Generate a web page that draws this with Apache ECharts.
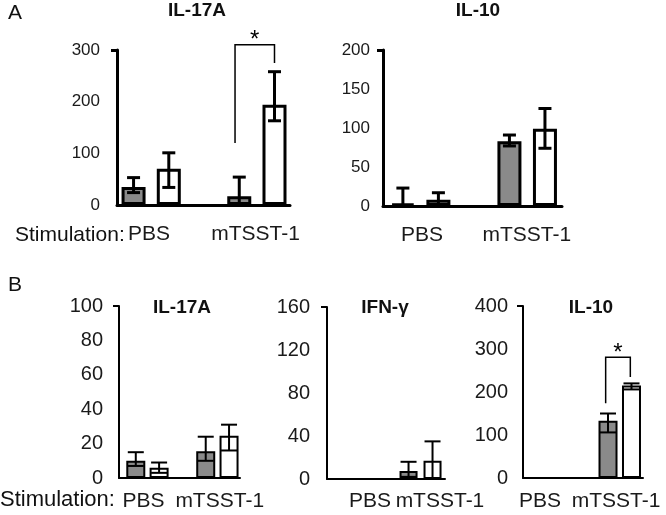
<!DOCTYPE html>
<html>
<head>
<meta charset="utf-8">
<script src="https://cdn.jsdelivr.net/npm/echarts@6.0.0/dist/echarts.min.js"></script>
<style>
html,body{margin:0;padding:0;background:#fff;}
#main{width:666px;height:515px;}
</style>
</head>
<body>
<div id="main"></div>
<script>
// ---------- DATA ----------
const groups = ['PBS', 'mTSST-1'];

// Panel A, IL-17A
const aIl17Gray   = [35, 17];
const aIl17GrayHi = [53, 54];
const aIl17GrayLo = [24, 0];
const aIl17White   = [70, 194];
const aIl17WhiteHi = [101, 258];
const aIl17WhiteLo = [34, 163];

// Panel A, IL-10
const aIl10Gray   = [3, 83];
const aIl10GrayHi = [23, 91];
const aIl10GrayLo = [0, 77];
const aIl10White   = [8, 99];
const aIl10WhiteHi = [17, 125];
const aIl10WhiteLo = [0, 74];

// Panel B, IL-17A
const bIl17Gray   = [10, 15.5];
const bIl17GrayHi = [15, 24];
const bIl17GrayLo = [7, 10];
const bIl17White   = [6, 24.5];
const bIl17WhiteHi = [9, 31];
const bIl17WhiteLo = [3, 16];

// Panel B, IFN-γ
const bIfnGray   = [0, 7.5];
const bIfnGrayHi = [null, 16];
const bIfnGrayLo = [null, 2];
const bIfnWhite   = [0, 17];
const bIfnWhiteHi = [null, 35];
const bIfnWhiteLo = [null, 0];

// Panel B, IL-10
const bIl10Gray   = [0, 133];
const bIl10GrayHi = [null, 150];
const bIl10GrayLo = [null, 106];
const bIl10White   = [0, 215];
const bIl10WhiteHi = [null, 220];
const bIl10WhiteLo = [null, 206];

// axis ticks
const aIl17Ticks = [0, 100, 200, 300];
const aIl10Ticks = [0, 50, 100, 150, 200];
const bIl17Ticks = [0, 20, 40, 60, 80, 100];
const bIfnTicks  = [0, 40, 80, 120, 160];
const bIl10Ticks = [0, 100, 200, 300, 400];

// significance brackets: [left leg bottom, right leg bottom, top]
const aIl17Sig = [120, 275, 310];
const bIl10Sig = [174, 235, 281];

// ---------- LAYOUT ----------
const FONT = "'Liberation Sans', Arial, Helvetica, sans-serif";
const panels = [
  {grid:{left:117, top:50, width:173, height:155}, ticks:aIl17Ticks, xMin:-0.47, xMax:4.44, labelPos:[0.44,3.46],
   gray:aIl17Gray, grayHi:aIl17GrayHi, grayLo:aIl17GrayLo, white:aIl17White, whiteHi:aIl17WhiteHi, whiteLo:aIl17WhiteLo,
   lw:3, barW:24, capW:13, tickFs:17, xFs:21, xMargin:19, yMargin:17, sig:aIl17Sig, sigX:[2.88,4.0]},
  {grid:{left:383, top:50, width:179, height:156}, ticks:aIl10Ticks, xMin:-0.56, xMax:4.48, labelPos:[0.54,3.49],
   gray:aIl10Gray, grayHi:aIl10GrayHi, grayLo:aIl10GrayLo, white:aIl10White, whiteHi:aIl10WhiteHi, whiteLo:aIl10WhiteLo,
   lw:3, barW:24, capW:13, tickFs:17, xFs:21, xMargin:19, yMargin:13},
  {grid:{left:119, top:306, width:121, height:172}, ticks:bIl17Ticks, xMin:-0.72, xMax:4.47, labelPos:[0.33,3.6],
   gray:bIl17Gray, grayHi:bIl17GrayHi, grayLo:bIl17GrayLo, white:bIl17White, whiteHi:bIl17WhiteHi, whiteLo:bIl17WhiteLo,
   lw:2, barW:19, capW:16, tickFs:20, xFs:21, xMargin:13, yMargin:16},
  {grid:{left:327, top:307, width:118, height:172}, ticks:bIfnTicks, xMin:-0.4, xMax:4.52, labelPos:[1.39,4.31],
   gray:bIfnGray, grayHi:bIfnGrayHi, grayLo:bIfnGrayLo, white:bIfnWhite, whiteHi:bIfnWhiteHi, whiteLo:bIfnWhiteLo,
   lw:2, barW:18, capW:16, tickFs:20, xFs:21, xMargin:12, yMargin:17},
  {grid:{left:523, top:306, width:120, height:172}, ticks:bIl10Ticks, xMin:-0.62, xMax:4.49, labelPos:[0.1,3.34],
   gray:bIl10Gray, grayHi:bIl10GrayHi, grayLo:bIl10GrayLo, white:bIl10White, whiteHi:bIl10WhiteHi, whiteLo:bIl10WhiteLo,
   lw:2, barW:19, capW:16, tickFs:20, xFs:21, xMargin:13, yMargin:15, sig:bIl10Sig, sigX:[2.9,3.95]}
];

const grids = [], xAxes = [], yAxes = [], series = [];

panels.forEach((p, i) => {
  grids.push(Object.assign({containLabel:false}, p.grid));
  const yMax = p.ticks[p.ticks.length - 1];
  const yInt = p.ticks[1] - p.ticks[0];
  xAxes.push({
    type:'value', gridIndex:i, min:p.xMin, max:p.xMax,
    axisLine:{show:true, onZero:false, lineStyle:{color:'#000', width:p.lw}},
    axisTick:{show:false}, splitLine:{show:false},
    axisLabel:{
      customValues:p.labelPos, hideOverlap:false, showMinLabel:true, showMaxLabel:true,
      formatter:(v)=> v < 2.5 ? groups[0] : groups[1],
      fontFamily:FONT, fontSize:p.xFs, color:'#1a1a1a', margin:p.xMargin
    }
  });
  yAxes.push({
    type:'value', gridIndex:i, min:0, max:yMax, interval:yInt,
    axisLine:{show:true, onZero:false, lineStyle:{color:'#000', width:p.lw}},
    axisTick:{show:true, customValues:[yMax], length:6, lineStyle:{color:'#000', width:p.lw}},
    splitLine:{show:false},
    axisLabel:{fontFamily:FONT, fontSize:p.tickFs, color:'#1a1a1a', margin:p.yMargin}
  });
  const pos = (g, k) => g * 3 + k; // gray at 0/3, white at 1/4
  const grayData = p.gray.map((v, g) => [pos(g,0), v]);
  const whiteData = p.white.map((v, g) => [pos(g,1), v]);
  series.push({
    type:'bar', xAxisIndex:i, yAxisIndex:i, data:grayData, barWidth:p.barW,
    itemStyle:{color:'#8a8a8a', borderColor:'#000', borderWidth:p.lw}, z:2, silent:true
  });
  series.push({
    type:'bar', xAxisIndex:i, yAxisIndex:i, data:whiteData, barWidth:p.barW, barGap:'-100%',
    itemStyle:{color:'#ffffff', borderColor:'#000', borderWidth:p.lw}, z:2, silent:true
  });
  const errData = [];
  groups.forEach((_, g) => {
    if (p.grayHi[g] != null) errData.push([pos(g,0), p.grayLo[g], p.grayHi[g]]);
    if (p.whiteHi[g] != null) errData.push([pos(g,1), p.whiteLo[g], p.whiteHi[g]]);
  });
  const lw = p.lw, capW = p.capW;
  series.push({
    type:'custom', xAxisIndex:i, yAxisIndex:i, data:errData, z:5, silent:true, clip:false,
    encode:{x:0, y:[1,2]},
    renderItem:(params, api) => {
      const x = api.value(0), lo = api.value(1), hi = api.value(2);
      const pH = api.coord([x, hi]), pL = api.coord([x, lo]);
      const st = {stroke:'#000', lineWidth:lw};
      const ch = [
        {type:'line', shape:{x1:pH[0], y1:pH[1], x2:pL[0], y2:pL[1]}, style:st},
        {type:'line', shape:{x1:pH[0]-capW/2, y1:pH[1], x2:pH[0]+capW/2, y2:pH[1]}, style:st}
      ];
      if (lo > 0) ch.push({type:'line', shape:{x1:pL[0]-capW/2, y1:pL[1], x2:pL[0]+capW/2, y2:pL[1]}, style:st});
      return {type:'group', children:ch};
    }
  });
  if (p.sig) {
    const sx = p.sigX, sg = p.sig;
    series.push({
      type:'custom', xAxisIndex:i, yAxisIndex:i, data:[[sx[0], sx[1], sg[0], sg[1], sg[2]]],
      z:6, silent:true, clip:false, encode:{x:[0,1], y:[2,3,4]},
      renderItem:(params, api) => {
        const x1 = api.value(0), x2 = api.value(1);
        const a = api.coord([x1, api.value(2)]);
        const b = api.coord([x2, api.value(3)]);
        const t1 = api.coord([x1, api.value(4)]);
        const t2 = api.coord([x2, api.value(4)]);
        return {type:'group', children:[
          {type:'polyline', shape:{points:[a, t1, t2, b]}, style:{stroke:'#000', lineWidth:1.5, fill:null}},
          {type:'text', style:{text:'*', x:(t1[0]+t2[0])/2, y:t1[1]+8, align:'center', verticalAlign:'bottom',
            font:'24px ' + FONT, fill:'#000'}}
        ]};
      }
    });
  }
});

function txt(x, y, text, size, opts) {
  return Object.assign({
    type:'text', x:x, y:y,
    style:Object.assign({text:text, font:(opts && opts.bold ? 'bold ' : '') + size + 'px ' + FONT,
      fill:'#111', align:'center', verticalAlign:'middle'}, opts && opts.style)
  }, opts && opts.el);
}

const graphics = [
  txt(15, 13, 'A', 21),
  txt(15, 285, 'B', 21),
  txt(197, 11, 'IL-17A', 19, {bold:true}),
  txt(478, 11, 'IL-10', 19, {bold:true}),
  txt(182, 308, 'IL-17A', 19, {bold:true}),
  txt(385, 308, 'IFN-γ', 19, {bold:true}),
  txt(591, 308, 'IL-10', 19, {bold:true}),
  txt(15, 235, 'Stimulation:', 21, {style:{align:'left'}}),
  txt(0, 500, 'Stimulation:', 22, {style:{align:'left'}}),
  txt(53, 125, 'pg/ml', 20, {el:{rotation:Math.PI/2, originX:53, originY:125}}),
  txt(52, 383, 'pg/ml', 21, {el:{rotation:Math.PI/2, originX:52, originY:383}})
];

const chart = echarts.init(document.getElementById('main'), null, {renderer:'canvas'});
chart.setOption({
  animation:false,
  backgroundColor:'#fff',
  textStyle:{fontFamily:FONT},
  grid:grids, xAxis:xAxes, yAxis:yAxes, series:series,
  graphic:graphics
});
</script>
</body>
</html>
